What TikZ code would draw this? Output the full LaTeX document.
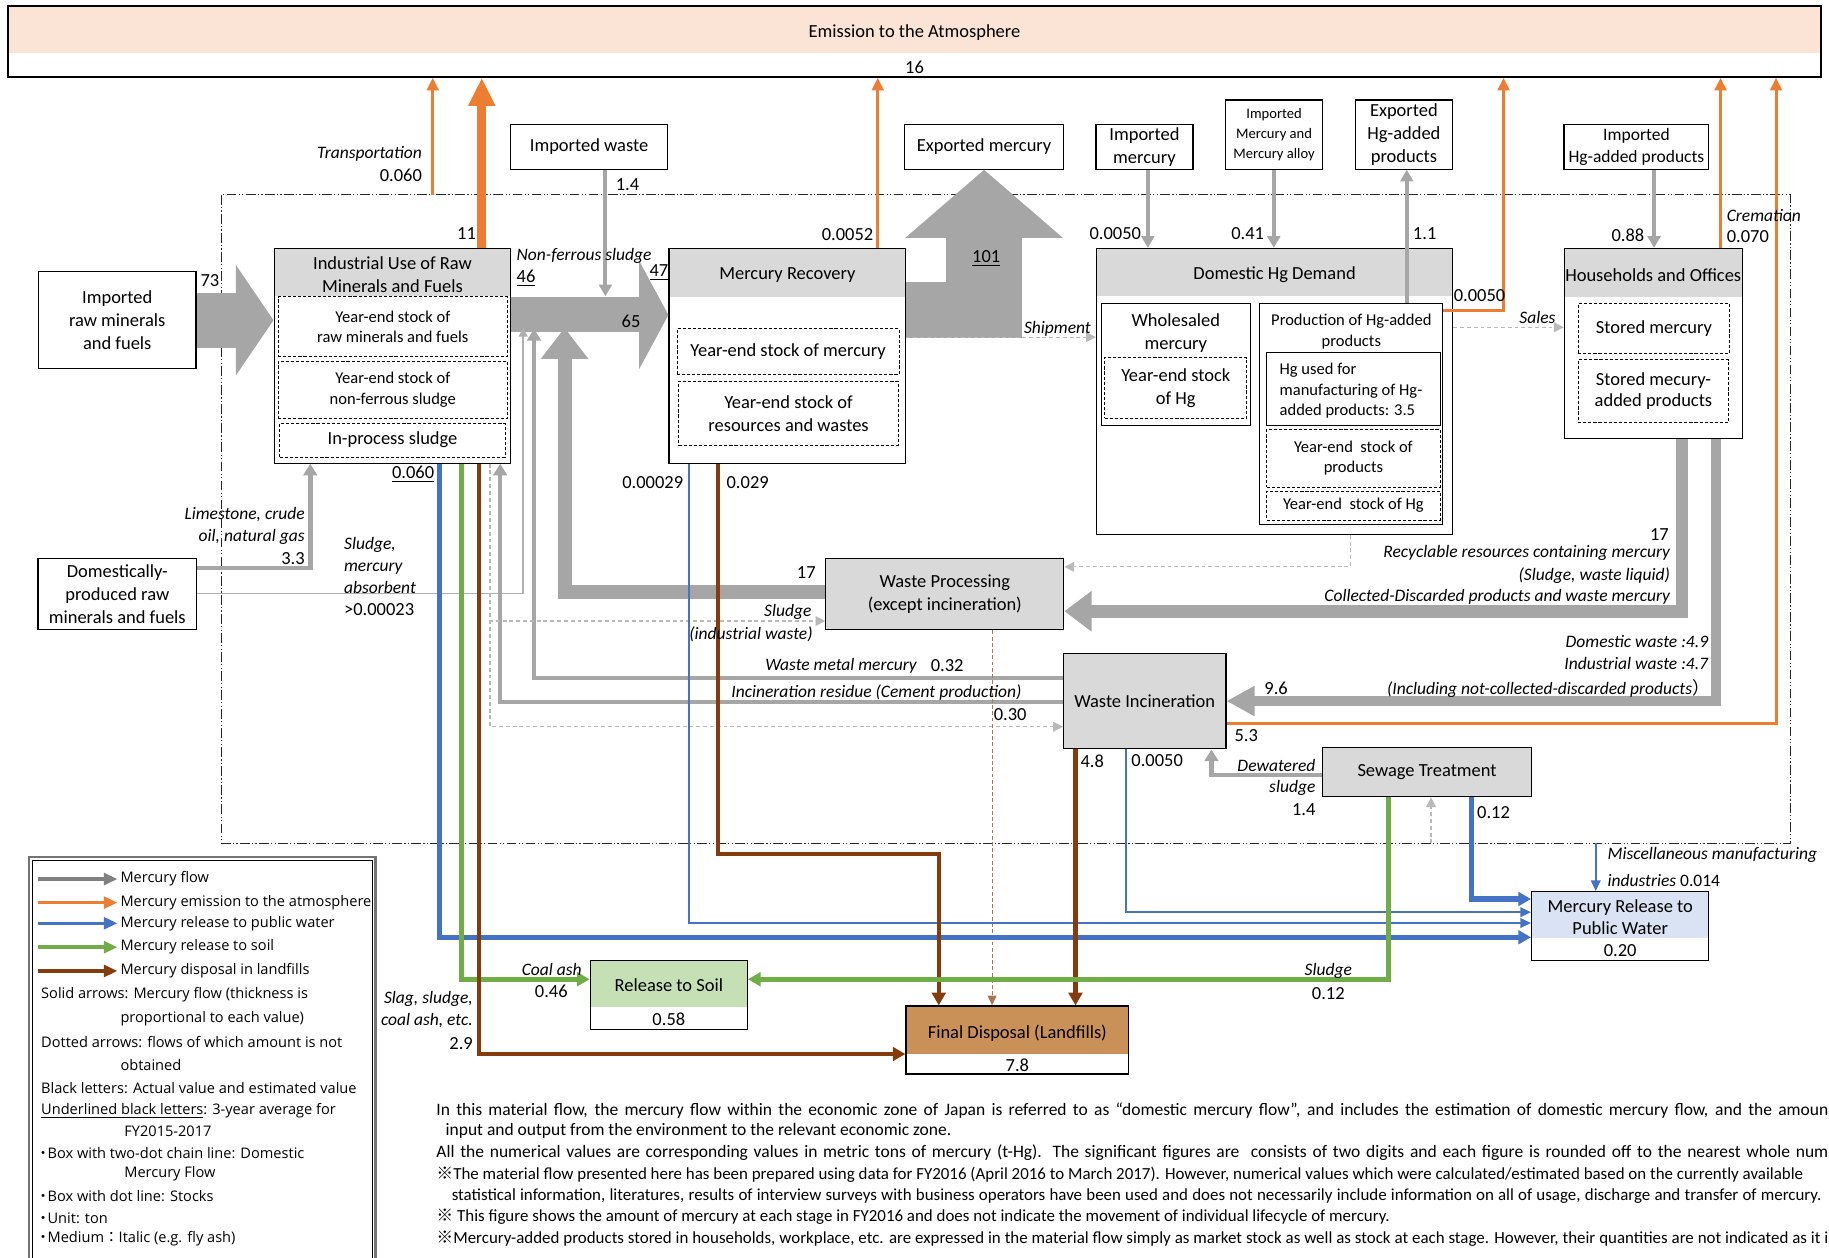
\documentclass[tikz,border=0pt]{standalone}
\usepackage{fontspec}
\setmainfont{Carlito}
\newfontfamily\cjk{Noto Sans CJK JP}
\newfontfamily\legfont{Open Sans}
\usetikzlibrary{arrows.meta}

\definecolor{flowgray}{RGB}{166,166,166}
\definecolor{legendgray}{RGB}{128,128,128}
\definecolor{dotgray}{RGB}{185,185,185}
\definecolor{finegray}{RGB}{175,175,175}
\definecolor{hdrgray}{RGB}{217,217,217}
\definecolor{emitorange}{RGB}{237,125,49}
\definecolor{waterblue}{RGB}{68,114,196}
\definecolor{soilgreen}{RGB}{112,173,71}
\definecolor{landbrown}{RGB}{132,60,12}
\definecolor{atmopink}{RGB}{251,228,213}
\definecolor{waterlav}{RGB}{218,227,243}
\definecolor{soillight}{RGB}{197,224,180}
\definecolor{landtan}{RGB}{201,145,88}

\newcommand{\mainsize}{\fontsize{9.5}{12}\selectfont}
\newcommand{\stocksize}{\fontsize{8.5}{10.6}\selectfont}
\newcommand{\smallbox}{\fontsize{7.5}{10.2}\selectfont}
\newcommand{\labsize}{\fontsize{9}{11.2}\selectfont\itshape}
\newcommand{\notesize}{\fontsize{8.7}{10}\selectfont}
\newcommand{\bignote}{\fontsize{9}{10}\selectfont}
\newcommand{\legsize}{\legfont\fontsize{7.5}{9}\selectfont}
\newcommand{\kome}{{\cjk ※}}
\newcommand{\nakaten}{\hbox to 0.6em{\hss\cjk ・\hss}}

\tikzset{
  spanbox/.style args={#1/#2/#3/#4}{minimum width={(#3-#1)*0.6pt}, minimum height={(#4-#2)*0.6pt}, at={({(#1+#3)/2},{(#2+#4)/2})}},
  box/.style={draw, line width=0.6pt, inner sep=0pt, align=center, font=\mainsize},
  stockbox/.style={draw, dash pattern=on 1.6pt off 1pt, line width=0.5pt, inner sep=0pt, align=center, font=\stocksize},
  hdr/.style 2 args={path picture={\fill[#1] (path picture bounding box.north west) rectangle ([yshift=-#2]path picture bounding box.north east);}},
  lbl/.style={inner sep=0pt, font=\mainsize, align=center, yshift=-0.9pt},
  ilbl/.style={inner sep=0pt, font=\labsize, yshift=-0.9pt},
  note/.style={anchor=west, inner sep=0pt, font=\notesize},
  legtext/.style={anchor=west, inner sep=0pt, font=\legsize},
  chainline/.style={draw=black!85, line width=0.5pt, dash pattern=on 5pt off 1.2pt on 0.6pt off 1.2pt on 0.6pt off 1.2pt},
  bigflow/.style={color=flowgray},
  gthin/.style={color=flowgray, line width=2pt, -{Triangle[width=6.5pt,length=6pt]}},
  gmid/.style={color=flowgray, line width=2.2pt, -{Triangle[width=7pt,length=6pt]}},
  gfine/.style={color=finegray, line width=0.7pt, -{Triangle[width=4.5pt,length=4.5pt]}},
  dotflow/.style={color=dotgray, line width=0.6pt, dash pattern=on 2pt off 1.5pt, -{Triangle[width=5pt,length=5pt]}},
  toair/.style={color=emitorange, line width=1.6pt, -{Triangle[width=6pt,length=6.5pt]}},
  toairthick/.style={color=emitorange, line width=4.8pt, -{Triangle[width=13pt,length=14.5pt]}},
  towater/.style={color=waterblue, line width=2.6pt, -{Triangle[width=7pt,length=6.5pt]}},
  towaterthin/.style={color=waterblue, line width=0.8pt, -{Triangle[width=5pt,length=5.5pt]}},
  tosoil/.style={color=soilgreen, line width=2.4pt, -{Triangle[width=7pt,length=6.5pt]}},
  tolandfill/.style={color=landbrown, line width=2.3pt, -{Triangle[width=7pt,length=6.5pt]}},
  landdot/.style={color=landbrown!70, line width=0.5pt, dash pattern=on 2pt off 1.2pt, -{Triangle[width=4.5pt,length=5pt]}}
}

\begin{document}
\begin{tikzpicture}[x=0.6pt, y=-0.6pt]
\useasboundingbox (0,0) rectangle (1568,1078);
\clip (0,0) rectangle (1568,1078);

% domestic mercury flow boundary
\draw[chainline] (190,167) rectangle (1535,723);

% emission to the atmosphere
\node[box, hdr={atmopink}{24.3pt}, line width=0.8pt, spanbox=7/5/1561/66] (atm) {};
\node[lbl] (atmt) at (784,26) {Emission to the Atmosphere};
\node[lbl] (atmv) at (784,56) {16};

% outside boxes
\node[box, spanbox=33/233/168/316] (imp) {Imported\\raw minerals\\and fuels};
\node[box, spanbox=32.6/478.5/168.5/540] (dpr) {Domestically-\\produced raw\\minerals and fuels};
\node[box, spanbox=438/107/572/145] (impw) {Imported waste};
\node[box, spanbox=775.6/106.6/911.7/145] (expm) {Exported mercury};
\node[box, spanbox=939.6/106.6/1022.7/145] (impm) {Imported\\mercury};
\node[box, font=\smallbox, spanbox=1050.8/85.7/1133.7/145] (impa) {Imported\\Mercury and\\Mercury alloy};
\node[box, spanbox=1161.7/85.7/1245.4/145] (exph) {Exported\\Hg-added\\products};
\node[box, font=\fontsize{9}{11.4}\selectfont, spanbox=1340.8/106.6/1465/145] (imph) {Imported\\Hg-added products};

% industrial use
\node[box, hdr={hdrgray}{24.6pt}, spanbox=235/213/438/397] (ind) {};
\node[lbl] (indt) at (336.5,234) {Industrial Use of Raw\\Minerals and Fuels};
\node[stockbox, spanbox=238.5/254.6/435/305.8] (ind1) {Year-end stock of\\raw minerals and fuels};
\node[stockbox, spanbox=238.5/309.5/435/359] (ind2) {Year-end stock of\\non-ferrous sludge};
\node[stockbox, font=\mainsize, spanbox=240/362.7/433/392] (ind3) {In-process sludge};

% mercury recovery
\node[box, hdr={hdrgray}{25pt}, spanbox=573.5/212.7/776.5/397] (mr) {};
\node[lbl] (mrt) at (675,234) {Mercury Recovery};
\node[stockbox, font=\mainsize, spanbox=580.5/282/770.7/320.8] (mr1) {Year-end stock of mercury};
\node[stockbox, font=\mainsize, spanbox=582/327/770/382] (mr2) {Year-end stock of\\resources and wastes};

% domestic Hg demand
\node[box, hdr={hdrgray}{24.6pt}, spanbox=940/213/1245.4/458] (dom) {};
\node[lbl] (domt) at (1092.7,234) {Domestic Hg Demand};
\node[box, line width=0.5pt, spanbox=944.5/260.6/1072/364.4] (whl) {};
\node[lbl] (whlt) at (1008,284) {Wholesaled\\mercury};
\node[stockbox, font=\mainsize, spanbox=947/306.6/1069/358.4] (whls) {Year-end stock\\of Hg};
\node[box, line width=0.5pt, spanbox=1080/260.6/1237/450] (prod) {};
\node[lbl, font=\stocksize] (prodt) at (1158.5,283) {Production of Hg-added\\products};
\node[box, line width=0.5pt, spanbox=1086/302/1234.5/364.4] (hgu) {};
\node[lbl, font=\stocksize, align=left, anchor=west] (hgut) at (1096.7,333.5) {Hg used for\\manufacturing of Hg-\\added products: 3.5};
\node[stockbox, spanbox=1086/368/1234.5/417.6] (prods) {Year-end~ stock of\\products};
\node[stockbox, spanbox=1086/421/1234.5/445.8] (prodh) {Year-end~ stock of Hg};

% households and offices
\node[box, hdr={hdrgray}{25pt}, spanbox=1341/213/1493.6/376] (hh) {};
\node[lbl] (hht) at (1417.3,234) {Households and Offices};
\node[stockbox, font=\mainsize, spanbox=1353/260/1482.7/302.7] (hh1) {Stored mercury};
\node[stockbox, font=\fontsize{9.5}{11.2}\selectfont, spanbox=1353/308.6/1482/361.8] (hh2) {Stored mecury-\\added products};

% processing
\node[box, fill=hdrgray, spanbox=708/478.5/912/540] (wp) {Waste Processing\\(except incineration)};
\node[box, fill=hdrgray, spanbox=911.7/560/1051/642] (wi) {Waste Incineration};
\node[box, fill=hdrgray, spanbox=1133.8/641/1313/683] (sew) {Sewage Treatment};

% sinks
\node[box, hdr={waterlav}{23.6pt}, spanbox=1313/764.4/1464.7/823.6] (mrw) {};
\node[lbl, font=\fontsize{9.5}{11.6}\selectfont] (mrwt) at (1389,784.7) {Mercury Release to\\Public Water};
\node[lbl] (mrwv) at (1389,813.6) {0.20};
\node[box, hdr={soillight}{23.7pt}, spanbox=506/823.5/640.7/882.4] (soil) {};
\node[lbl] (soilt) at (573.4,843) {Release to Soil};
\node[lbl] (soilv) at (573.4,872.7) {0.58};
\node[box, hdr={landtan}{24.7pt}, spanbox=776.7/862.4/967.7/920.7] (fd) {};
\node[lbl] (fdt) at (872.2,884.4) {Final Disposal (Landfills)};
\node[lbl] (fdv) at (872.2,912) {7.8};

% big gray flows
\draw[bigflow, line width=28.2pt, -{Triangle[width=56pt,length=19.4pt]}] (imp.east) -- (imp.east -| ind.west);
\draw[bigflow, line width=18pt, -{Triangle[width=55pt,length=15pt]}] (ind.east |- 0,270) -- (mr.west |- 0,270);
\fill[flowgray] (mr.east |- 0,241.5) rectangle (876,290);
\draw[bigflow, line width=39pt, -{Triangle[width=79pt,length=35pt]}] (expm.south |- 0,290) -- (expm.south);
\draw[bigflow, line width=6.6pt, -{Triangle[width=20pt,length=14pt]}] (hh.south -| 1442,0) |- (wp.east |- 0,524);
\draw[bigflow, line width=4.8pt, -{Triangle[width=14.6pt,length=14.4pt]}] (hh.south -| 1471,0) |- (wi.east);
\coordinate (fbtip) at (484,281);
\draw[bigflow, line width=7.2pt, -{Triangle[width=23.4pt,length=16pt]}] (wp.west |- 0,507.5) -| (fbtip);

% gray flows
\coordinate (nfs) at (519,254);
\draw[gthin] (impw.south -| nfs) -- (nfs);
\draw[gthin] (impm.south -| 984,0) -- (dom.north -| 984,0);
\draw[gthin] (impa.south -| 1092,0) -- (dom.north -| 1092,0);
\draw[gthin] (prod.north -| 1206,0) -- (exph.south -| 1206,0);
\draw[gthin] (imph.south -| 1418,0) -- (hh.north -| 1418,0);
\draw[gmid, line width=2.4pt] (dpr.east |- 0,487) -| (ind.south -| 266,0);
\coordinate (abstip) at (448.5,281);
\draw[gfine] (dpr.east |- 0,509) -| (abstip);
\coordinate (wmtip) at (457.8,282);
\draw[gmid] (wi.west |- 0,581) -| (wmtip);
\draw[gmid] (wi.west |- 0,602) -| (ind.south -| 428.8,0);
\draw[gmid, line width=2.4pt] (sew.west |- 0,664.4) -| (wi.south -| 1038.6,0);

% flows with no amount
\draw[dotflow] (mr.east |- 0,289) -- (dom.west |- 0,289);
\draw[dotflow] (dom.east |- 0,280.6) -- (hh.west |- 0,280.6);
\draw[dotflow] (dom.south -| 1157.6,0) |- (wp.east |- 0,486);
\draw[dotflow] (ind.south -| 420,0) |- (wp.west |- 0,532.4);
\draw[dotflow] (ind.south -| 420,0) |- (wi.west |- 0,623);
\coordinate (sewin) at (1226.8,723);
\draw[dotflow] (sewin) -- (sewin |- sew.south);
\draw[landdot] (wp.south -| 850.5,0) -- (fd.north -| 850.5,0);

% emissions
\coordinate (trs) at (371,167);
\draw[toair] (trs) -- (trs |- atm.south);
\draw[toairthick] (ind.north -| 413,0) -- (atm.south -| 413,0);
\draw[toair] (mr.north -| 752.5,0) -- (atm.south -| 752.5,0);
\draw[toair] (prod.east |- 0,266) -| (atm.south -| 1289,0);
\draw[toair] (hh.north -| 1475,0) -- (atm.south -| 1475,0);
\draw[toair] (wi.east |- 0,620) -| (atm.south -| 1522.6,0);

% releases and disposal
\draw[towater] (ind.south -| 377,0) |- (mrw.west |- 0,803.5);
\draw[tosoil] (ind.south -| 395.4,0) |- (soil.west |- 0,839.5);
\draw[tolandfill] (ind.south -| 410.6,0) |- (fd.west |- 0,903.6);
\draw[towaterthin] (mr.south -| 590.7,0) |- (mrw.west |- 0,791.3);
\coordinate (mrbend) at (615.6,732);
\draw[tolandfill] (mr.south -| mrbend) -- (mrbend) -| (fd.north -| 804.8,0);
\draw[tolandfill] (wi.south -| 922,0) -- (fd.north -| 922,0);
\draw[towaterthin] (wi.south -| 965.3,0) |- (mrw.west |- 0,782);
\draw[tosoil] (sew.south -| 1190.5,0) |- (soil.east |- 0,839.5);
\draw[towater] (sew.south -| 1261.6,0) |- (mrw.west |- 0,770.7);
\coordinate (misc) at (1368,723);
\draw[towaterthin] (misc) -- (misc |- mrw.north);

% amounts and media
\node[lbl] (v73) at (180,238.6) {73};
\node[ilbl, anchor=east] (ltrans) at (362,130) {Transportation};
\node[lbl, anchor=east] (vtrans) at (362,148.6) {0.060};
\node[lbl] (v11) at (400,198.6) {11};
\node[lbl] (vimpw) at (538,157) {1.4};
\node[ilbl, anchor=west] (lnfs) at (442.6,217.7) {Non-ferrous sludge};
\node[lbl, anchor=west] (v46) at (442.6,237) {\underline{46}};
\node[lbl, anchor=west] (v47) at (556.5,232) {\underline{47}};
\node[lbl] (v65) at (541,274) {65};
\node[lbl, anchor=east] (vmrair) at (749,200) {0.0052};
\node[lbl] (v101) at (845.5,220) {\underline{101}};
\node[ilbl, anchor=east] (lship) at (935.5,280.6) {Shipment};
\node[lbl, anchor=east] (vimpm) at (978.5,199) {0.0050};
\node[lbl, anchor=east] (vimpa) at (1084,199) {0.41};
\node[lbl, anchor=west] (vexph) at (1211,199) {1.1};
\node[lbl, anchor=west] (vdomair) at (1246,251.7) {0.0050};
\node[ilbl] (lsales) at (1318,270.6) {Sales};
\node[lbl, anchor=east] (vimph) at (1410,200) {0.88};
\node[ilbl, anchor=west] (lcrem) at (1480,183.4) {Cremation};
\node[lbl, anchor=west] (vcrem) at (1480,201.7) {0.070};
\node[ilbl, anchor=east, align=right, font=\fontsize{9}{11.3}\selectfont\itshape] (llime) at (261.5,449) {Limestone, crude\\oil, natural gas};
\node[lbl, anchor=east] (vlime) at (261.5,477.2) {3.3};
\node[ilbl, anchor=west, align=left, font=\fontsize{9}{11.4}\selectfont\itshape] (labs) at (294.7,483.5) {Sludge,\\mercury\\absorbent};
\node[lbl, anchor=west] (vabs) at (294.7,521.5) {>0.00023};
\node[lbl, anchor=east] (vindw) at (372.5,405.2) {\underline{0.060}};
\node[lbl, anchor=east] (vmrw) at (586,412) {0.00029};
\node[lbl, anchor=west] (vmrl) at (622.6,412) {0.029};
\node[lbl, anchor=east] (v17a) at (699.6,489.2) {17};
\node[ilbl, anchor=east] (lsl) at (696,523.5) {Sludge};
\node[ilbl, anchor=east] (lslw) at (697,542) {(industrial waste)};
\node[ilbl] (lwmm) at (721,569) {Waste metal mercury};
\node[lbl] (vwmm) at (812,569) {0.32};
\node[ilbl] (lres) at (751.4,592) {Incineration residue (Cement production)};
\node[lbl] (vres) at (866,611.5) {0.30};
\node[lbl, anchor=east] (v17b) at (1431,456.8) {17};
\node[ilbl, anchor=east] (lrec1) at (1432,472.7) {Recyclable resources containing mercury};
\node[ilbl, anchor=east] (lrec2) at (1432,491.7) {(Sludge, waste liquid)};
\node[ilbl, anchor=east] (lrec3) at (1432,510.4) {Collected-Discarded products and waste mercury};
\node[ilbl, anchor=east] (ldw) at (1464.7,548.3) {Domestic waste :4.9};
\node[ilbl, anchor=east] (liw) at (1464.7,567.6) {Industrial waste :4.7};
\node[ilbl, anchor=east] (lncd) at (1466,588.4) {(Including not-collected-discarded products{\upshape\cjk ）}};
\node[lbl] (v96) at (1094,589) {9.6};
\node[lbl, anchor=west] (v53) at (1058,629) {5.3};
\node[lbl, anchor=west] (v48) at (926,650.7) {4.8};
\node[lbl, anchor=west] (vwiw) at (969.6,650.7) {0.0050};
\node[ilbl, anchor=east] (ldew1) at (1128,655) {Dewatered};
\node[ilbl, anchor=east] (ldew2) at (1128,674) {sludge};
\node[lbl, anchor=east] (vdew) at (1128,692.4) {1.4};
\node[lbl, anchor=west] (vsew) at (1266,695) {0.12};
\node[ilbl, anchor=west] (lmisc1) at (1377.8,731) {Miscellaneous manufacturing};
\node[ilbl, anchor=west] (lmisc2) at (1377.8,753.6) {industries {\upshape 0.014}};
\node[ilbl, anchor=east] (lcoal) at (499,830) {Coal ash};
\node[lbl] (vcoal) at (472.6,848.7) {0.46};
\node[ilbl, anchor=east, align=right, font=\fontsize{9}{11.2}\selectfont\itshape] (lslag) at (405.7,864.2) {Slag, sludge,\\coal ash, etc.};
\node[lbl, anchor=east] (vslag) at (405.7,893) {2.9};
\node[ilbl] (lsewsl) at (1138.7,831) {Sludge};
\node[lbl] (vsewsl) at (1138.7,850) {0.12};

% legend
\draw[line width=1.2pt, draw=black!55] (25,734.5) rectangle (322,1100);
\draw[line width=0.5pt] (27.8,737.3) rectangle (319.2,1100);
\foreach \lc/\ly/\lt [count=\i] in {legendgray/753.6/Mercury flow, emitorange/773.8/Mercury emission to the atmosphere, waterblue/791.5/Mercury release to public water, soilgreen/812/Mercury release to soil, landbrown/832.4/Mercury disposal in landfills}{
  \coordinate (lgs\i) at (33,\ly);
  \coordinate (lge\i) at (100.7,\ly);
  \draw[color=\lc, line width=1.8pt, -{Triangle[width=6pt,length=7pt]}] (lgs\i) -- (lge\i);
  \node[legtext] (lgt\i) at (103,\ly) {\lt};
}
\foreach \lx/\ly/\lt [count=\i] in {35/853/{Solid arrows: Mercury flow (thickness is}, 103/873.6/{proportional to each value)}, 35/893/{Dotted arrows: flows of which amount is not}, 103/913/{obtained}, 35/932.7/{Black letters: Actual value and estimated value}, 35/952.4/{\underline{Underlined black letters}: 3-year average for}, 106.3/970/{FY2015-2017}, 33/988.7/{\nakaten Box with two-dot chain line: Domestic}, 106.3/1006.6/{Mercury Flow}, 33/1025/{\nakaten Box with dot line: Stocks}, 33/1044/{\nakaten Unit: ton}, 33/1062/{\nakaten Medium{\cjk ：}Italic (e.g. fly ash)}}{
  \node[legtext] (lgx\i) at (\lx,\ly) {\lt};
}

% notes
\node[note, font=\bignote] (fn1) at (373.8,952) {\hbox to 716pt{In this material flow, the mercury flow within the economic zone of Japan is referred to as “domestic mercury flow”, and includes the estimation of domestic mercury flow, and the amoun}};
\node[note, font=\bignote] (fn2) at (381.7,969.5) {input and output from the environment to the relevant economic zone.};
\node[note, font=\bignote] (fn3) at (373.8,988) {\hbox to 716pt{All the numerical values are corresponding values in metric tons of mercury (t-Hg). The significant figures are~ consists of two digits and each figure is rounded off to the nearest whole num}};
\node[note] (fn4) at (373.8,1007) {\hbox to 703pt{\kome The material flow presented here has been prepared using data for FY2016 (April 2016 to March 2017). However, numerical values which were calculated/estimated based on the currently available}};
\node[note] (fn5) at (387,1025) {\hbox to 704.5pt{statistical information, literatures, results of interview surveys with business operators have been used and does not necessarily include information on all of usage, discharge and transfer of mercury.}};
\node[note] (fn6) at (373.8,1043) {\kome\ This figure shows the amount of mercury at each stage in FY2016 and does not indicate the movement of individual lifecycle of mercury.};
\node[note] (fn7) at (373.8,1062) {\hbox to 716pt{\kome Mercury-added products stored in households, workplace, etc. are expressed in the material flow simply as market stock as well as stock at each stage. However, their quantities are not indicated as it i}};
\end{tikzpicture}
\end{document}
